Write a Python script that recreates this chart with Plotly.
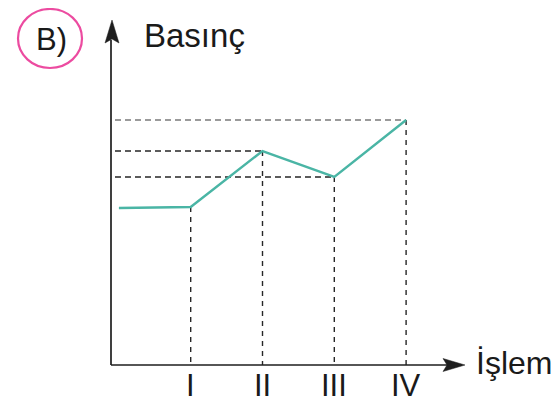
import plotly.graph_objects as go

# ---- data ----
steps = [0, 1, 2, 3, 4]                 # 0 = start, 1..4 = I..IV
pressure = [3.14, 3.16, 4.28, 3.76, 4.9]
tick_pos = [1, 2, 3, 4]
tick_labels = ["I", "II", "III", "IV"]
y_title = "Basınç"
x_title = "İşlem"
panel_label = "B)"

W, H = 559, 404
OFF = 8   # page body margin
# page-pixel <-> data mapping (layout helpers)
X0PX, XSTEP = 118.9, 71.8     # page pixel of x=0, pixels per step
Y0PX, YSTEP = 365.0, 50.0     # page pixel of y=0, pixels per unit
def X(px): return (px - X0PX) / XSTEP
def Y(py): return (Y0PX - py) / YSTEP

line_col = "#4AB5A5"
dash_col = "#262626"
axis_col = "#1e1e1e"
txt_col = "#1a1a1a"
pink = "#EC4BA0"
FONT = "Liberation Sans, Arial, Helvetica, sans-serif"

fig = go.Figure()

ax_x = X(111)
hx_start = X(115)
for i in range(1, len(steps)):
    fig.add_trace(go.Scatter(x=[steps[i], steps[i]], y=[pressure[i], 0], mode="lines",
                             line=dict(color=dash_col, width=1.4, dash="5px,5px"),
                             hoverinfo="skip", showlegend=False))
    if i >= 2:
        last = i == len(steps) - 1
        fig.add_trace(go.Scatter(x=[hx_start, steps[i]], y=[pressure[i], pressure[i]], mode="lines",
                                 line=dict(color="#7a7a7a" if last else dash_col,
                                           width=1.7 if last else 1.4, dash="6px,4px"),
                                 hoverinfo="skip", showlegend=False))

fig.add_trace(go.Scatter(x=steps, y=pressure, mode="lines",
                         line=dict(color=line_col, width=2.4),
                         hoverinfo="skip", showlegend=False))

shapes = []
shapes.append(dict(type="line", xref="x", yref="y", x0=ax_x, y0=0, x1=ax_x, y1=Y(40),
                   line=dict(color=axis_col, width=1.7)))
shapes.append(dict(type="path", xref="x", yref="y",
                   path=f"M {X(112)} {Y(20)} L {X(105)} {Y(43)} L {X(112)} {Y(39)} L {X(119)} {Y(43)} Z",
                   fillcolor=axis_col, line=dict(color=axis_col, width=0.5)))
shapes.append(dict(type="line", xref="x", yref="y", x0=ax_x, y0=0, x1=X(447), y1=0,
                   line=dict(color=axis_col, width=1.7)))
shapes.append(dict(type="path", xref="x", yref="y",
                   path=f"M {X(465)} {Y(365)} L {X(443)} {Y(358.5)} L {X(447)} {Y(365)} L {X(443)} {Y(371.5)} Z",
                   fillcolor=axis_col, line=dict(color=axis_col, width=0.5)))
shapes.append(dict(type="circle", xref="x", yref="y", x0=X(18), x1=X(82), y0=Y(68), y1=Y(9),
                   line=dict(color=pink, width=2.2)))

annotations = []
for p, t in zip(tick_pos, tick_labels):
    annotations.append(dict(x=p, y=Y(385), xref="x", yref="y", text=t, showarrow=False,
                            font=dict(family=FONT, size=31, color=txt_col),
                            xanchor="center", yanchor="middle"))
annotations.append(dict(x=X(142), y=Y(35), xref="x", yref="y", text=y_title, showarrow=False,
                        font=dict(family=FONT, size=33, color=txt_col),
                        xanchor="left", yanchor="middle"))
annotations.append(dict(x=X(474), y=Y(363), xref="x", yref="y", text=x_title, showarrow=False,
                        font=dict(family=FONT, size=32, color=txt_col),
                        xanchor="left", yanchor="middle"))
annotations.append(dict(x=X(51), y=Y(39), xref="x", yref="y", text=panel_label, showarrow=False,
                        font=dict(family=FONT, size=31, color=txt_col),
                        xanchor="center", yanchor="middle"))

fig.update_layout(
    width=W, height=H,
    margin=dict(l=0, r=0, t=0, b=0),
    paper_bgcolor="white", plot_bgcolor="white",
    xaxis=dict(range=[X(OFF), X(W + OFF)], visible=False, fixedrange=True),
    yaxis=dict(range=[Y(H + OFF), Y(OFF)], visible=False, fixedrange=True),
    shapes=shapes, annotations=annotations,
    showlegend=False,
)
fig.write_html("out.html", config={"displayModeBar": False})
